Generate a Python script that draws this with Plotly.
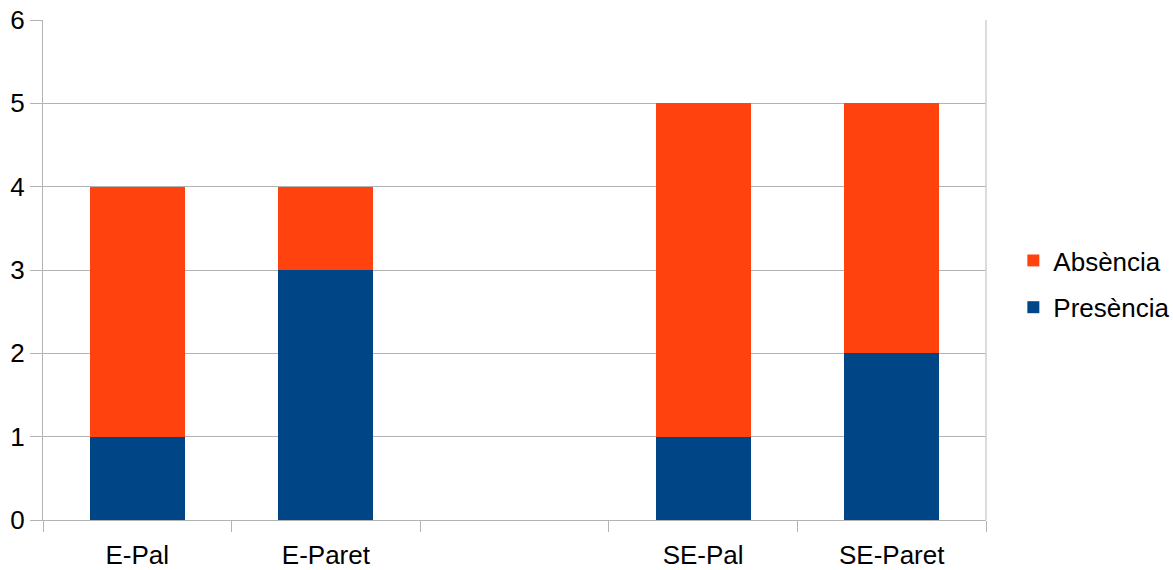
import plotly.graph_objects as go

# Categories (the blank one leaves an empty slot between the two groups)
categories = ["E-Pal", "E-Paret", " ", "SE-Pal", "SE-Paret"]
presencia = [1, 3, None, 1, 2]
absencia = [3, 1, None, 4, 3]
y_ticks = [0, 1, 2, 3, 4, 5, 6]

BLUE = "#004586"
ORANGE = "#ff420e"
GRID = "#b3b3b3"
FONT = "Liberation Sans, Arial, sans-serif"
SIZE = 26

fig = go.Figure()
fig.add_trace(go.Bar(x=categories, y=presencia, name="Presència",
                     legendgroup="p", legendrank=2,
                     marker=dict(color=BLUE, line=dict(width=0))))
fig.add_trace(go.Bar(x=categories, y=absencia, name="Absència",
                     legendgroup="a", legendrank=1,
                     marker=dict(color=ORANGE, line=dict(width=0))))

fig.update_layout(
    barmode="stack",
    bargap=0.496,
    width=1173,
    height=570,
    margin=dict(l=43, r=187, t=20, b=50, autoexpand=False),
    paper_bgcolor="white",
    plot_bgcolor="white",
    font=dict(family=FONT, size=SIZE, color="black"),
    showlegend=True,
    legend=dict(
        traceorder="grouped",
        tracegroupgap=10,
        x=1.029, xanchor="left",
        y=0.472, yanchor="middle",
        font=dict(size=SIZE),
        itemwidth=30,
        bgcolor="rgba(0,0,0,0)",
    ),
    xaxis=dict(
        type="category",
        categoryorder="array",
        categoryarray=categories,
        automargin=False,
        showgrid=False,
        showline=True,
        linecolor=GRID,
        linewidth=1,
        ticks="outside",
        tickson="boundaries",
        ticklen=11,
        tickcolor=GRID,
        ticklabelstandoff=12,
        tickfont=dict(size=SIZE, color="black"),
    ),
    yaxis=dict(
        range=[0, 6],
        tickvals=y_ticks,
        automargin=False,
        showgrid=True,
        gridcolor=GRID,
        gridwidth=1,
        showline=True,
        linecolor=GRID,
        linewidth=1,
        ticks="outside",
        ticklen=12,
        tickcolor=GRID,
        zeroline=False,
        tickfont=dict(size=SIZE, color="black"),
    ),
    shapes=[
        dict(type="line", xref="x domain", yref="y domain",
             x0=1, x1=1, y0=0, y1=1,
             line=dict(color="#d0d0d0", width=1.5)),
    ],
)

fig.write_html("out.html")
